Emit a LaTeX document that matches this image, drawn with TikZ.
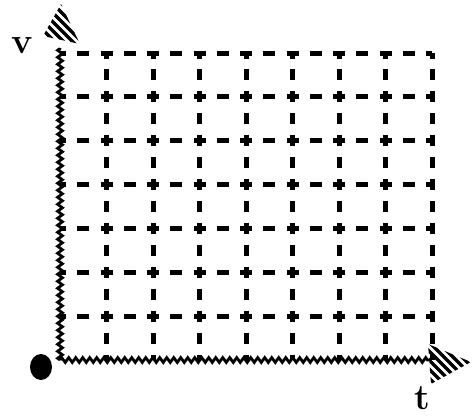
\documentclass[tikz,border=0pt]{standalone}
\usepackage{tikz}
\usetikzlibrary{decorations.pathmorphing}

\begin{document}
\begin{tikzpicture}[x=1pt, y=-1pt,
  gridh/.style={line width=5pt, dash pattern=on 12pt off 11.25pt, dash phase=6pt},
  gridv/.style={line width=5pt, dash pattern=on 11pt off 10.93pt, dash phase=5.5pt},
  axis/.style={line width=2.8pt, decorate, decoration={zigzag, segment length=7pt, amplitude=2.4pt}},
  hatch/.style={line width=3.2pt},
  lab/.style={font=\fontsize{36}{36}\bfseries\selectfont, inner sep=0pt},
]
  \useasboundingbox (0,0) rectangle (475,416);
  \coordinate (O) at (60,360);
  \coordinate (vtop) at (60,48);
  \coordinate (tend) at (430,360);

  % grid
  \foreach \i in {0,...,6}
    \draw[gridh] (60,{53+43.86*\i}) -- (432,{53+43.86*\i});
  \foreach \i in {1,...,8}
    \draw[gridv] ({60+46.5*\i},53) -- ({60+46.5*\i},360);

  % axes
  \draw[axis] (O) -- (vtop);
  \draw[axis] (O) -- (tend);
  \begin{scope}
    \clip (61,4) -- (43,36) -- (80,44) -- cycle;
    \foreach \d in {-60,-51,...,60}
      \draw[hatch] ({61+\d-50},-26) -- ({61+\d+50},74);
  \end{scope}
  \begin{scope}
    \clip (428,344) -- (471,362) -- (431,384) -- cycle;
    \foreach \d in {-60,-51,...,60}
      \draw[hatch] ({448+\d-50},314) -- ({448+\d+50},414);
  \end{scope}

  % labels
  \fill (41,367) ellipse [x radius=11, y radius=13];
  \node[lab] (vlab) at (22,46) {v};
  \node[lab] (tlab) at (422,398) {t};
\end{tikzpicture}
\end{document}
